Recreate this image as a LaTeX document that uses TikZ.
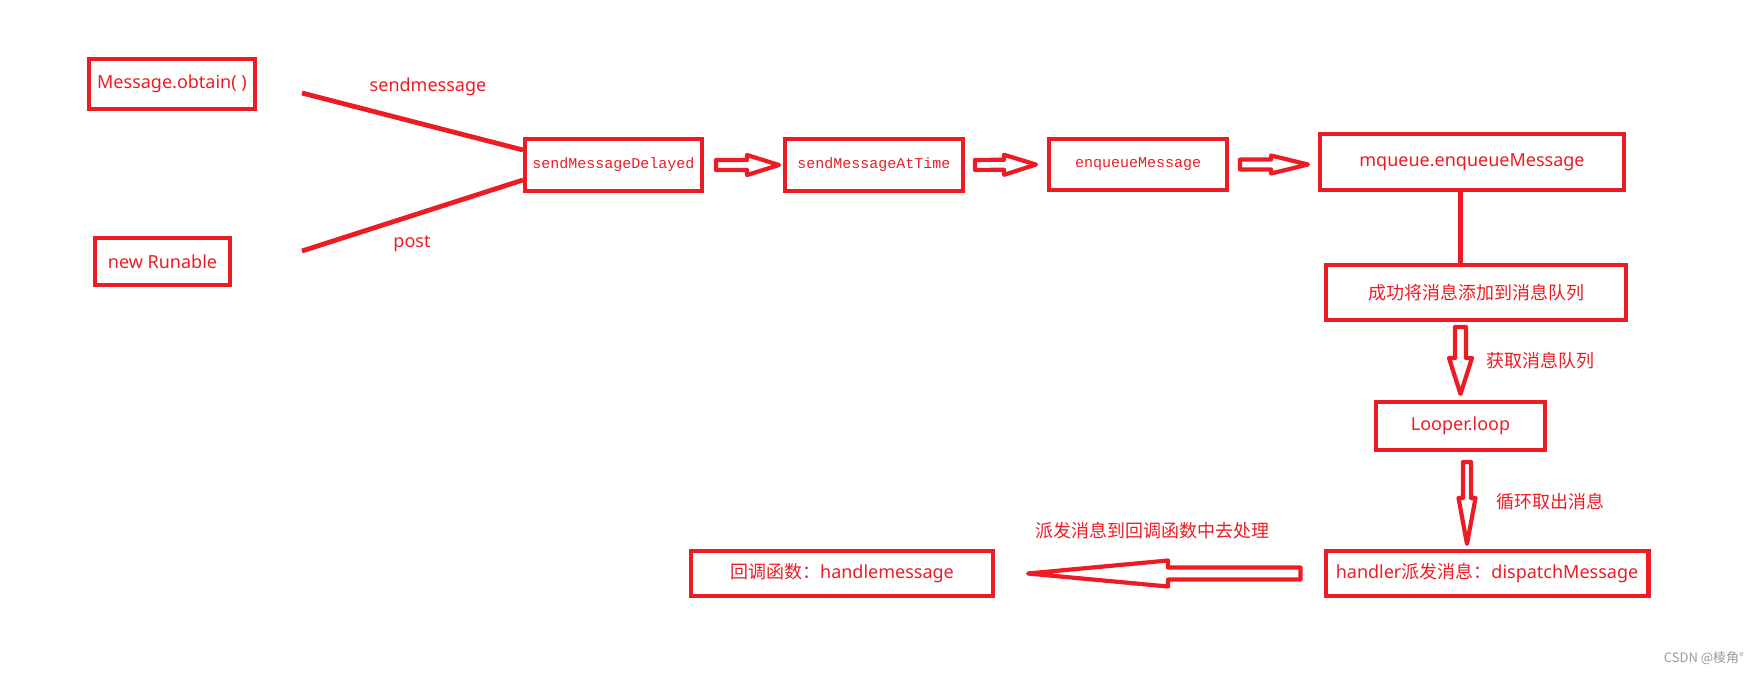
\documentclass[tikz,border=0pt]{standalone}
\usepackage{fontspec}
\setmainfont{Noto Sans}
\newfontfamily\cjk{Noto Sans CJK SC}
\newfontfamily\songti{Liberation Mono}
\usepackage{tikz}
\usetikzlibrary{calc}
\definecolor{paintred}{RGB}{237,28,36}
\definecolor{markgray}{gray}{0.6}
\tikzset{
  box/.style={draw=paintred,line width=4.3pt,text=paintred,inner sep=0pt,
    font=\fontsize{18}{20}\selectfont},
  monobox/.style={box,font=\songti\fontsize{15}{18}\selectfont},
  outer/.style 2 args={minimum width=#1pt-4.3pt,minimum height=#2pt-4.3pt},
  link/.style={paintred,line width=4.8pt},
  fatline/.style={draw=paintred,line width=4.2pt,line join=round,fill=white},
  lab/.style={text=paintred,font=\fontsize{18}{20}\selectfont},
  cjklab/.style={text=paintred,font=\cjk\fontsize{18}{20}\selectfont},
}
% hollow arrow: from, to, gap at start, gap at end, shaft, head, head length
\newcommand{\fatarrow}[7]{%
  \coordinate (fa-a) at ($(#1)!#3!(#2)$);
  \coordinate (fa-b) at ($(#2)!#4!(#1)$);
  \coordinate (fa-h) at ($(fa-b)!#7!(fa-a)$);
  \draw[fatline] ($(fa-a)!#5!90:(fa-b)$) -- ($(fa-h)!#5!-90:(fa-a)$)
    -- ($(fa-h)!#6!-90:(fa-a)$) -- (fa-b) -- ($(fa-h)!#6!90:(fa-a)$)
    -- ($(fa-h)!#5!90:(fa-a)$) -- ($(fa-a)!#5!-90:(fa-b)$) -- cycle;
}

\begin{document}
\begin{tikzpicture}[x=1pt,y=-1pt]
  \useasboundingbox (0,0) rectangle (1757,675);
  % sources
  \node[box,outer={170}{54}] (obtain) at (172,84) {Message.obtain( )};
  \node[box,outer={139}{51}] (runable) at (162.5,261.5) {new Runable};
  % top row
  \node[monobox,outer={181}{56}] (delayed) at (613.5,165) {sendMessageDelayed};
  \node[monobox,outer={182}{56}] (attime) at (874,165) {sendMessageAtTime};
  \node[monobox,outer={182}{55}] (enq) at (1138,164.5) {enqueueMessage};
  \node[box,outer={308}{60}] (mq) at (1472,162) {mqueue.enqueueMessage\hspace{26pt}};
  % right column
  \node[box,outer={304}{59},font=\cjk\fontsize{18}{20}\selectfont] (ok) at (1476,292.5) {成功将消息添加到消息队列};
  \node[box,outer={173}{52}] (lp) at (1460.5,426) {Looper.loop};
  \node[box,outer={327}{49}] (hd) at (1487,573.5) {handler{\cjk 派发消息：}dispatchMessage};
  \node[box,outer={306}{49}] (cb) at (842,573.5) {{\cjk 回调函数：}handlemessage\hspace{12pt}};

  % lines into sendMessageDelayed
  \coordinate (smfree) at (302,93);
  \coordinate (psfree) at (302,251);
  \draw[link] (smfree) -- ($(delayed.west)+(0,-15)$);
  \draw[link] (psfree) -- ($(delayed.west)+(0,15)$);
  \node[lab] (smlab) at (428,87) {sendmessage};
  \node[lab] (pslab) at (412,244) {post};

  % hollow arrows along the top
  \fatarrow{delayed.east}{attime.west}{12pt}{4pt}{5pt}{10pt}{32pt}
  \fatarrow{attime.east}{enq.west}{10pt}{11pt}{5pt}{10pt}{32pt}
  \coordinate (mqin) at (mq.west |- enq.east);
  \fatarrow{enq.east}{mqin}{11pt}{10pt}{5pt}{9pt}{37pt}

  % down the right side
  \draw[paintred,line width=4.5pt] (mq.south -| lp.north) -- (ok.north -| lp.north);
  \coordinate (d1a) at (ok.south -| lp.north);
  \fatarrow{d1a}{lp.north}{5pt}{6pt}{5.5pt}{11.5pt}{36pt}
  \node[cjklab] (getq) at (1540,361) {获取消息队列};
  \coordinate (d2a) at ([xshift=6.5pt]lp.south);
  \coordinate (d2b) at (d2a |- hd.north);
  \fatarrow{d2a}{d2b}{10pt}{5pt}{4pt}{8.5pt}{46pt}
  \node[cjklab] (loopq) at (1550,502) {循环取出消息};

  % back to the callback
  \fatarrow{hd.west}{cb.east}{23pt}{33pt}{6pt}{13pt}{140pt}
  \node[cjklab] (dispatch) at (1152,531) {派发消息到回调函数中去处理};

  \node[font=\cjk\fontsize{13}{15}\selectfont,text=markgray] (mark) at (1704,658) {CSDN @棱角°};
\end{tikzpicture}
\end{document}
